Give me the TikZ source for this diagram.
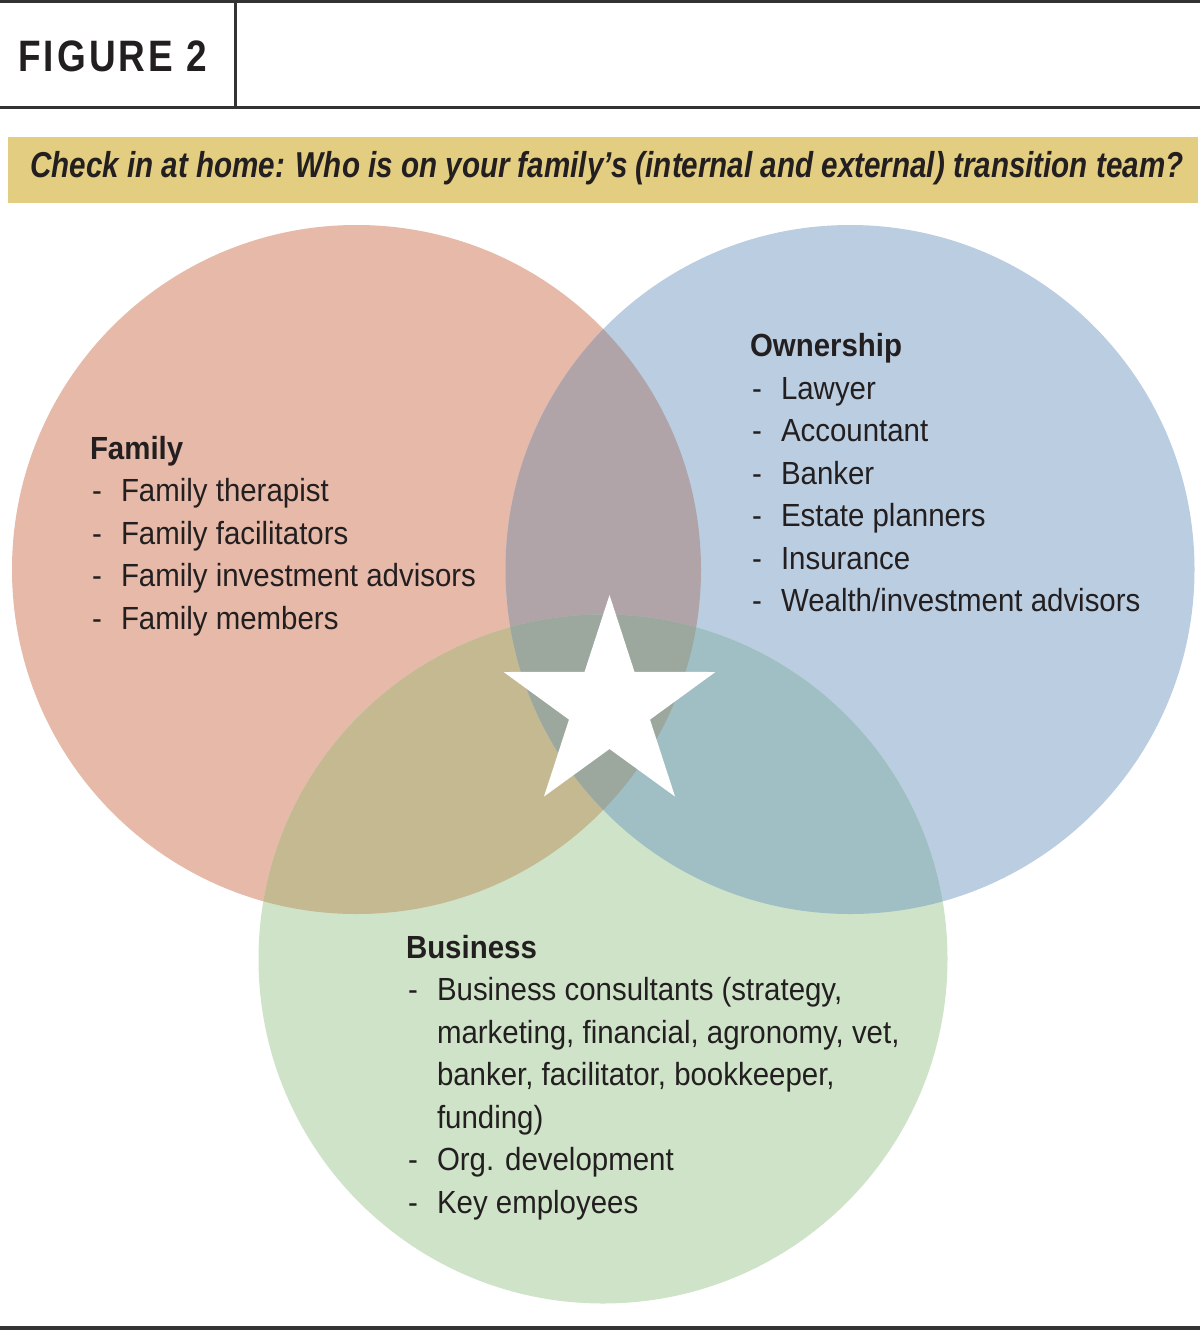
\documentclass[tikz,border=0pt]{standalone}
\usepackage{fontspec}
\setmainfont{Liberation Sans}[FakeStretch=0.92]
\newfontfamily\titlefont{Liberation Sans}[FakeStretch=0.822]
\newfontfamily\figfont{Liberation Sans}[FakeStretch=0.84, LetterSpace=7]
\definecolor{ink}{HTML}{231F20}
\definecolor{rulec}{HTML}{333333}
\definecolor{band}{HTML}{E3CD80}
\definecolor{famc}{HTML}{E6B9A8}
\definecolor{ownc}{HTML}{BBCDE1}
\definecolor{busc}{HTML}{CFE3C9}
\definecolor{foc}{HTML}{B0A4A9}
\definecolor{fbc}{HTML}{C4B991}
\definecolor{obc}{HTML}{A0BFC5}
\definecolor{allc}{HTML}{9CA79E}
\newcommand\dashitem[1]{\hbox to 31pt{\hskip2pt-\hfil}#1}
\begin{document}
\begin{tikzpicture}[x=1pt,y=-1pt,
  txt/.style={anchor=base west, inner sep=0pt, outer sep=0pt, text=ink, font=\fontsize{32}{40}\selectfont},
  head/.style={txt, font=\fontsize{32}{40}\selectfont\bfseries},
  rulestyle/.style={draw=rulec}]
\useasboundingbox (0,0) rectangle (1200,1330);
\fill[white] (0,0) rectangle (1200,1330);
% header rules
\draw[rulestyle, line width=3.5pt] (0,1.75) -- (1200,1.75);
\draw[rulestyle, line width=3pt] (0,107.5) -- (1200,107.5);
\draw[rulestyle, line width=2.5pt] (235.5,1.75) -- (235.5,107.5);
\draw[rulestyle, line width=4pt] (0,1328) -- (1200,1328);
\node[anchor=base west, inner sep=0pt, text=ink, font=\figfont\fontsize{44}{50}\selectfont\bfseries] (fig) at (18,71) {FIGURE 2};
% band
\fill[band] (7.5,136.5) rectangle (1198,202.5);
\node[anchor=base west, inner sep=0pt, text=ink, font=\titlefont\fontsize{36}{40}\selectfont\bfseries\itshape] (title) at (30,177.5) {Check in at home: Who is on your family’s (internal and external) transition team?};
% circles
\coordinate (F) at (356.5,569.5);
\coordinate (O) at (850,569.5);
\coordinate (B) at (603,959);
\def\R{344.5}
\fill[famc] (F) circle (\R);
\fill[ownc] (O) circle (\R);
\fill[busc] (B) circle (\R);
\begin{scope}\clip (F) circle (\R); \fill[foc] (O) circle (\R);\end{scope}
\begin{scope}\clip (F) circle (\R); \fill[fbc] (B) circle (\R);\end{scope}
\begin{scope}\clip (O) circle (\R); \fill[obc] (B) circle (\R);\end{scope}
\begin{scope}\clip (F) circle (\R); \clip (O) circle (\R); \fill[allc] (B) circle (\R);\end{scope}
% star
\fill[white] (609.5,595.0) -- (634.5,671.9) -- (715.4,672.0) -- (650.0,719.6) -- (675.0,796.5)
  -- (609.5,749.0) -- (544.0,796.5) -- (569.0,719.6) -- (503.6,672.0) -- (584.5,671.9) -- cycle;
% Family
\node[head] (fh) at (90,459) {Family};
\node[txt] (f1) at (90,501.5) {\dashitem{Family therapist}};
\node[txt] (f2) at (90,544) {\dashitem{Family facilitators}};
\node[txt] (f3) at (90,586.5) {\dashitem{Family investment advisors}};
\node[txt] (f4) at (90,629) {\dashitem{Family members}};
% Ownership
\node[head] (oh) at (750,356.5) {Ownership};
\node[txt] (o1) at (750,399) {\dashitem{Lawyer}};
\node[txt] (o2) at (750,441.5) {\dashitem{Accountant}};
\node[txt] (o3) at (750,484) {\dashitem{Banker}};
\node[txt] (o4) at (750,526.5) {\dashitem{Estate planners}};
\node[txt] (o5) at (750,569) {\dashitem{Insurance}};
\node[txt] (o6) at (750,611.5) {\dashitem{Wealth/investment advisors}};
% Business
\node[head] (bh) at (406,958) {Business};
\node[txt] (b1) at (406,1000.5) {\dashitem{Business consultants (strategy,}};
\node[txt] (b2) at (406,1043) {\hskip31pt marketing, financial, agronomy, vet,};
\node[txt] (b3) at (406,1085.5) {\hskip31pt banker, facilitator, bookkeeper,};
\node[txt] (b4) at (406,1128) {\hskip31pt funding)};
\node[txt] (b5) at (406,1170.5) {\dashitem{Org. development}};
\node[txt] (b6) at (406,1213) {\dashitem{Key employees}};
\end{tikzpicture}
\end{document}
